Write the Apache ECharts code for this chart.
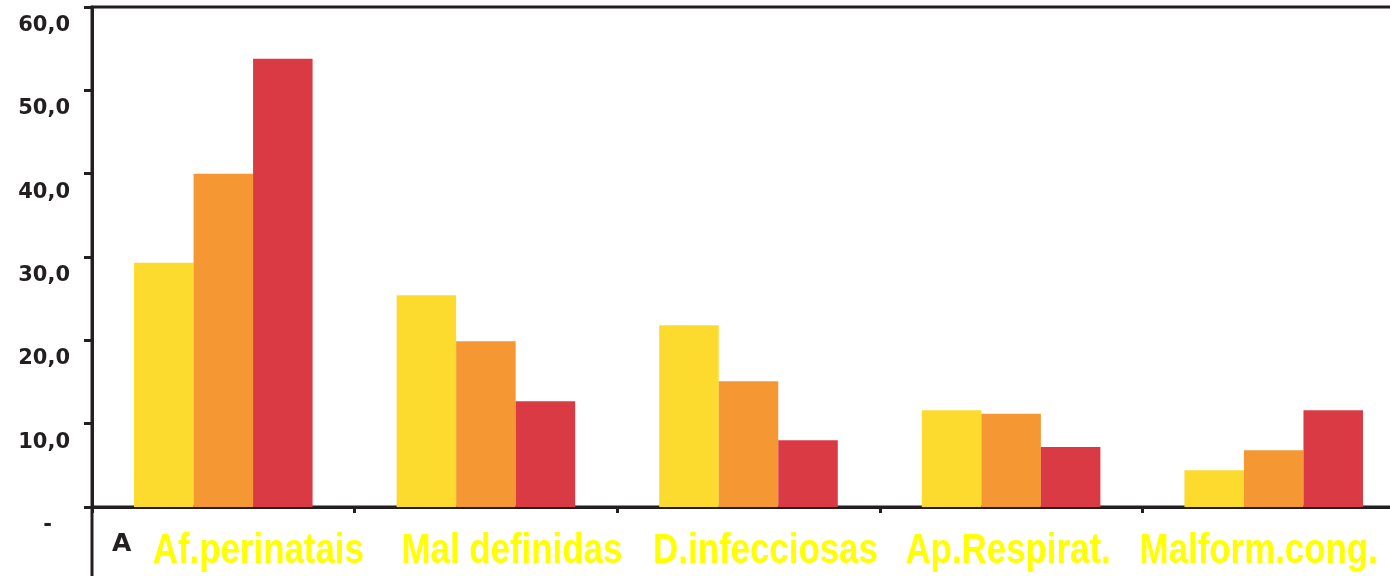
<!DOCTYPE html>
<html>
<head>
<meta charset="utf-8">
<script src="https://cdn.jsdelivr.net/npm/echarts@6/dist/echarts.min.js"></script>
<style>
  html, body { margin: 0; padding: 0; background: #fff; overflow: hidden; }
  #chart { width: 1405px; height: 576px; }
</style>
</head>
<body>
<div id="chart"></div>
<script>
// categorias (causas de óbito)
var categories = ['Af.perinatais', 'Mal definidas', 'D.infecciosas', 'Ap.Respirat.', 'Malform.cong.'];

// valores, três períodos
var serieA = [29.3, 25.4, 21.8, 11.6, 4.4];
var serieB = [40.0, 19.9, 15.1, 11.2, 6.8];
var serieC = [53.8, 12.7, 8.0, 7.2, 11.6];

var yTicks = [0, 10, 20, 30, 40, 50, 60];

// deslocamento horizontal dos rótulos (px) - fora dos dados
var labelShift = [35, 26, 17, -3, -15];

var cores = ['#FDDB2E', '#F59733', '#DA3A44'];
var preto = '#231F20';

var chart = echarts.init(document.getElementById('chart'));

function fmtY(v) {
  if (v === 0) return '{d|-}';
  return v.toFixed(1).replace('.', ',');
}

function barSerie(data, cor) {
  return {
    type: 'bar',
    data: data,
    barGap: '0%',
    barCategoryGap: '32%',
    itemStyle: { color: cor },
    animation: false
  };
}

chart.setOption({
  animation: false,
  grid: {
    left: 92, top: 7, bottom: 69, right: 0,
    show: true, borderColor: preto, borderWidth: 3, backgroundColor: 'transparent'
  },
  xAxis: {
    type: 'category',
    data: categories,
    axisLine: { lineStyle: { color: preto, width: 3 } },
    axisTick: { show: true, length: 6, inside: false, lineStyle: { color: preto, width: 3 } },
    axisLabel: { show: false }
  },
  yAxis: {
    type: 'value',
    min: yTicks[0],
    max: yTicks[yTicks.length - 1],
    interval: 10,
    axisLine: { show: true, lineStyle: { color: preto, width: 3 } },
    axisTick: { show: true, length: 8, lineStyle: { color: preto, width: 3 } },
    splitLine: { show: false },
    axisLabel: {
      formatter: fmtY,
      color: preto,
      fontFamily: 'DejaVu Sans, sans-serif',
      fontWeight: 'bold',
      fontSize: 21,
      margin: 22,
      verticalAlign: 'top',
      padding: [8, 0, 0, 0],
      rich: {
        d: { padding: [0, 18, 0, 0], fontSize: 21, fontWeight: 'bold', color: preto }
      }
    }
  },
  series: [
    barSerie(serieA, cores[0]),
    barSerie(serieB, cores[1]),
    barSerie(serieC, cores[2])
  ]
});

// rótulos do eixo x: fonte estreita simulada com scaleX, posição tirada do eixo
var base = chart.convertToPixel({ yAxisIndex: 0 }, 0);
var graficos = [
  // prolongamento do eixo vertical abaixo da linha de base
  { type: 'line', shape: { x1: 92, y1: base, x2: 92, y2: 576 }, style: { stroke: preto, lineWidth: 3 } },
  { type: 'text', left: 112, top: 532, style: { text: 'A', fill: preto, font: 'bold 25px DejaVu Sans' } }
];
categories.forEach(function (c, i) {
  var cx = chart.convertToPixel({ xAxisIndex: 0 }, c);
  graficos.push({
    type: 'text',
    x: cx + labelShift[i],
    y: base + 44,
    scaleX: 0.83,
    style: {
      text: c,
      fill: '#FFFF00',
      font: 'bold 42px "Liberation Sans", Arial, sans-serif',
      align: 'center',
      verticalAlign: 'middle',
      textShadowColor: 'rgba(120,120,120,0.55)',
      textShadowOffsetX: 2,
      textShadowOffsetY: 2,
      textShadowBlur: 0
    }
  });
});
chart.setOption({ graphic: graficos });
</script>
</body>
</html>
